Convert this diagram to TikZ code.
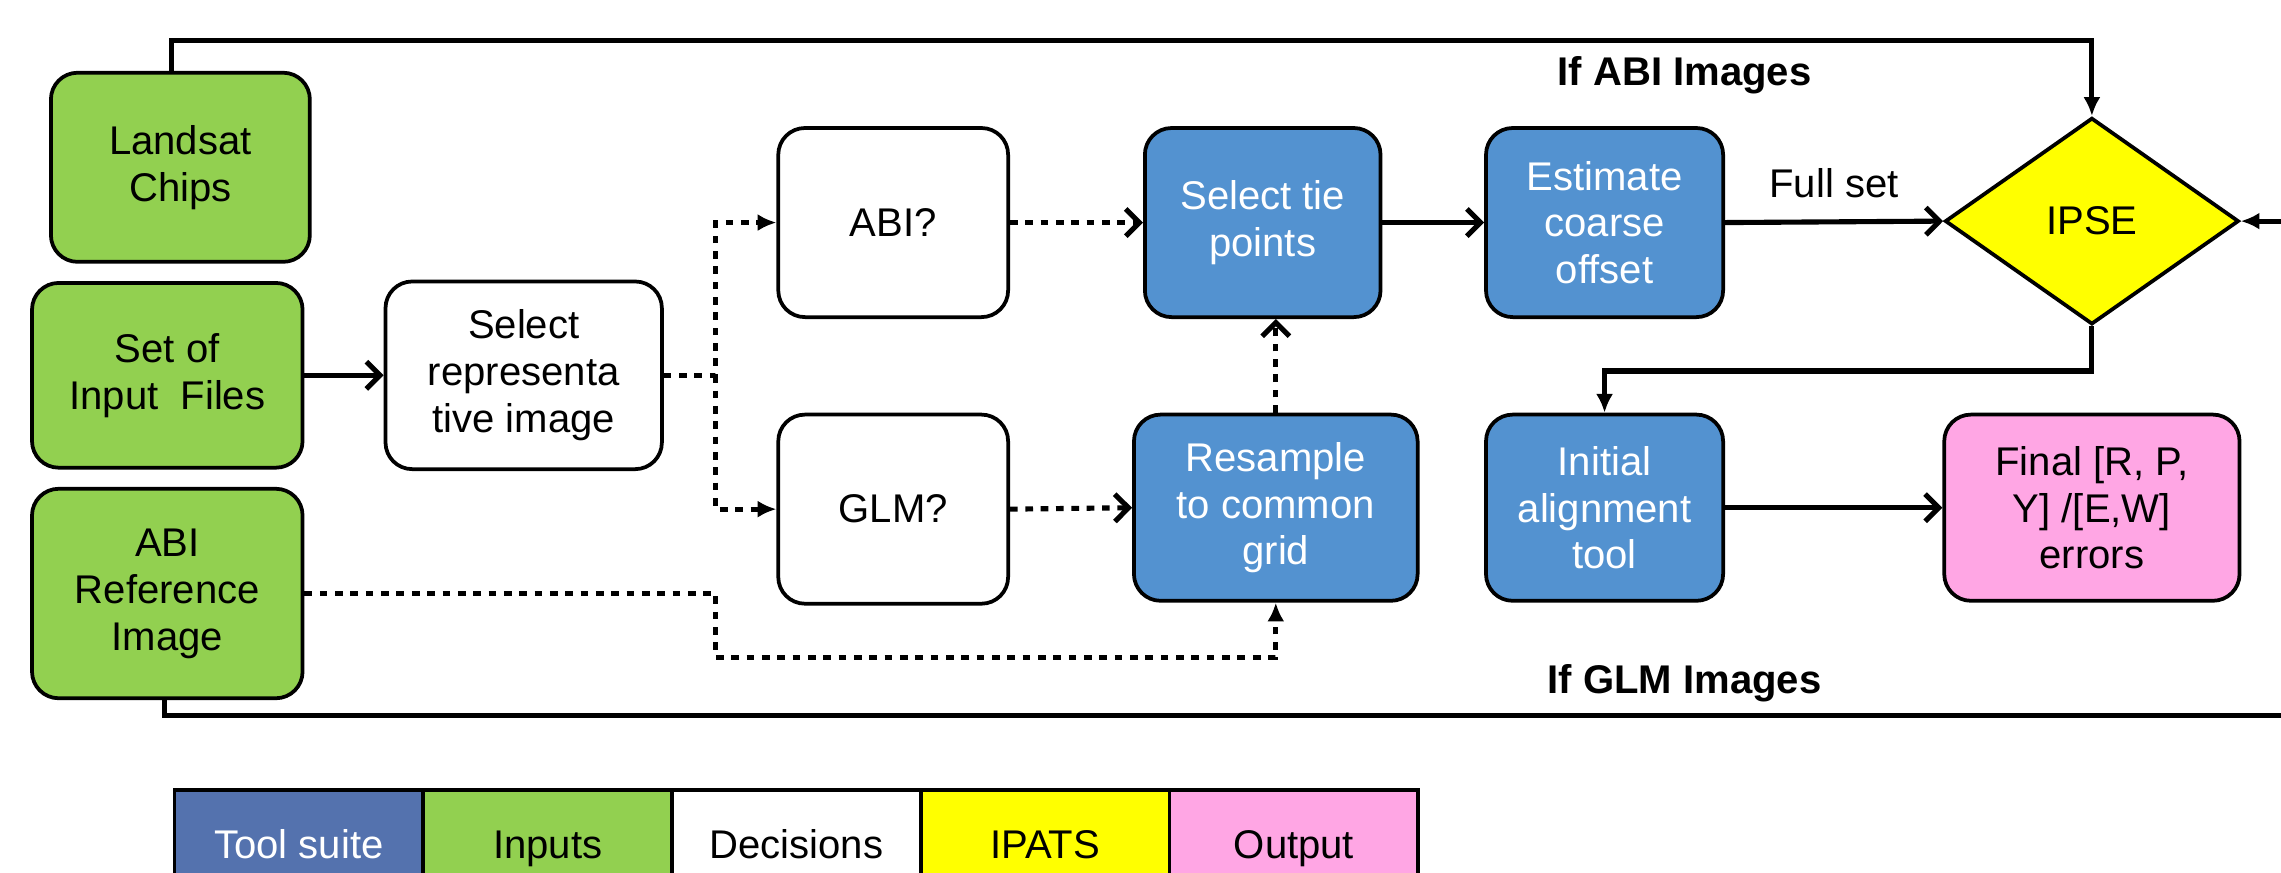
\documentclass[tikz,border=0pt]{standalone}
\usepackage{fontspec}
\setmainfont{Liberation Sans}
\usetikzlibrary{shapes.geometric,arrows.meta}
\definecolor{inputgreen}{RGB}{146,208,80}
\definecolor{toolblue}{RGB}{83,146,208}
\definecolor{suiteblue}{RGB}{84,114,174}
\definecolor{ipatsyellow}{RGB}{255,255,0}
\definecolor{outpink}{RGB}{255,166,228}
\begin{document}
\begin{tikzpicture}[x=0.03cm,y=-0.03cm,
  every node/.style={font=\fontsize{23.5}{27.5}\selectfont, align=center},
  sz/.style 2 args={minimum width=#1*0.03cm, minimum height=#2*0.03cm},
  box/.style={draw=black, line width=2.2pt, rounded corners=0.55cm, inner sep=2pt},
  inbox/.style={box, fill=inputgreen},
  tool/.style={box, fill=toolblue, text=white},
  choice/.style={box, fill=white},
  outbox/.style={box, fill=outpink},
  ipsebox/.style={diamond, draw=black, line width=2.2pt, fill=ipatsyellow, inner sep=0pt},
  legcell/.style={draw=black, line width=2.2pt, rectangle, sz={171}{80},
    text height=17pt, text depth=5pt},
  barb/.style={-{Straight Barb[length=8pt,width=16pt]}},
  tri/.style={-{Latex[length=11pt,width=10pt]}},
  solidline/.style={line width=3pt},
  dotline/.style={line width=3pt, dash pattern=on 4.5pt off 4.5pt},
  looplabel/.style={font=\fontsize{23.5}{27.5}\selectfont\bfseries},
]
\useasboundingbox (0,0) rectangle (1568,600);
\clip (0,0) rectangle (1568,600);
\fill[white] (0,0) rectangle (1568,600);

% inputs
\node[inbox, sz={178}{130}] (land) at (124,115) {Landsat\\Chips};
\node[inbox, sz={186}{127}] (input) at (115,258) {Set of\\Input\ \ Files};
\node[inbox, sz={186}{144}] (abiref) at (115,408) {ABI\\Reference\\Image};

% decisions
\node[choice, sz={190}{129}] (select) at (360,258) {Select\\representa\\tive image};
\node[choice, sz={158}{130}] (abi) at (614,153) {ABI?};
\node[choice, sz={158}{130}] (glm) at (614,350) {GLM?};

% tool suite
\node[tool, sz={162}{130}] (tie) at (868,153) {Select tie\\points};
\node[tool, sz={195}{128}] (resample) at (877,349) {Resample\\to common\\grid};
\node[tool, sz={163}{130}] (coarse) at (1103,153) {Estimate\\coarse\\offset};
\node[tool, sz={163}{128}] (initial) at (1103,349) {Initial\\alignment\\tool};

% IPATS and output
\node[ipsebox, sz={202}{142}] (ipse) at (1438,152) {IPSE};
\node[outbox, sz={203}{128}] (final) at (1438,349) {Final [R, P,\\Y] /[E,W]\\errors};

% routing points
\coordinate (jx) at (492,0);
\coordinate (lowy) at (0,452);
\coordinate (topL) at (118,28);
\coordinate (botL) at (113,492);
\coordinate (botR) at (1600,492);
\coordinate (turn) at (0,255);

% solid flow
\draw[solidline, barb] (input.east) -- (select.west);
\draw[solidline, barb] (tie.east) -- (coarse.west);
\draw[solidline, barb] (coarse.east) -- node[above=9pt, font=\fontsize{23.5}{27.5}\selectfont] (fullset) {Full set} (ipse.west);
\draw[solidline, barb] (initial.east) -- (final.west);
\draw[solidline, tri] (ipse.south) -- (ipse.south |- turn) -| (initial.north);
\draw[solidline, tri] (land.north -| topL) -- (topL) -| (ipse.north);
\draw[solidline, tri] (abiref.south -| botL) -- (botL) -- (botR) |- (ipse.east);

% dotted flow
\draw[dotline, tri] (select.east) -- (select.east -| jx) |- (abi.west);
\draw[dotline, tri] (select.east -| jx) |- (glm.west);
\draw[dotline, barb] (abi.east) -- (tie.west);
\draw[dotline, barb] (glm.east) -- (resample.west);
\draw[dotline, barb] (resample.north) -- (resample.north |- tie.south);
\draw[dotline, tri] (abiref.east) -- (abiref.east -| jx) -- (jx |- lowy) -| (resample.south);

% branch labels
\node[looplabel] (abilabel) at (1158,52) {If ABI Images};
\node[looplabel] (glmlabel) at (1158,470) {If GLM Images};

% legend
\node[legcell, fill=suiteblue, text=white] (lg1) at (205.5,583) {Tool suite};
\node[legcell, fill=inputgreen] (lg2) at (376.5,583) {Inputs};
\node[legcell, fill=white] (lg3) at (547.5,583) {Decisions};
\node[legcell, fill=ipatsyellow] (lg4) at (718.5,583) {IPATS};
\node[legcell, fill=outpink] (lg5) at (889.5,583) {Output};
\end{tikzpicture}
\end{document}
